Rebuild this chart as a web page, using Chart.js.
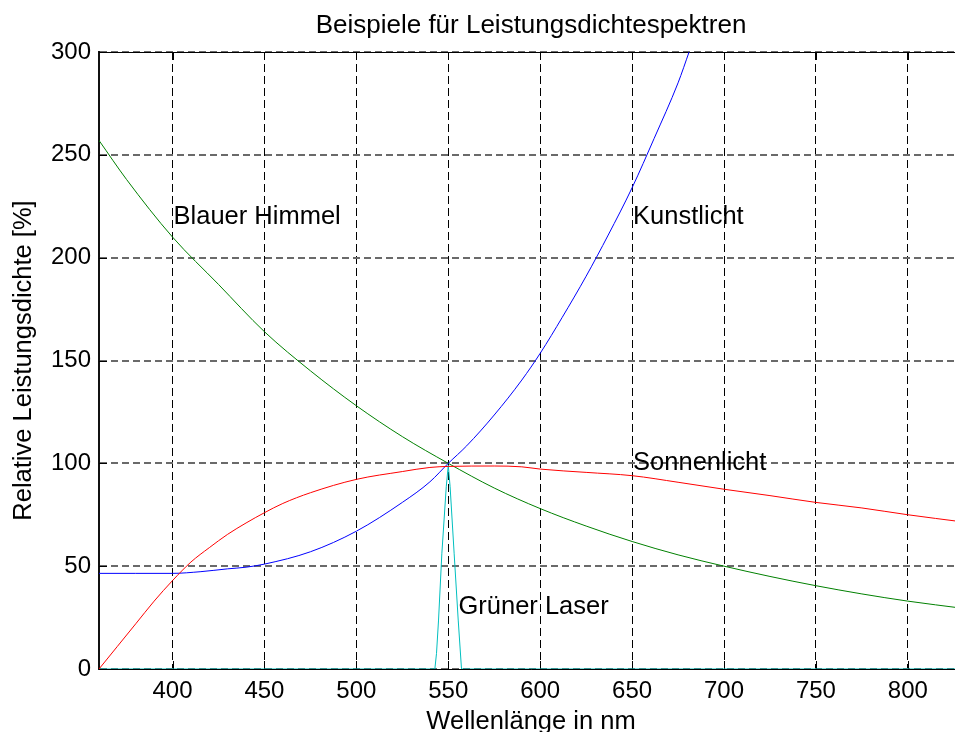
<!DOCTYPE html>
<html lang="de">
<head>
<meta charset="utf-8">
<title>Beispiele für Leistungsdichtespektren</title>
<script src="https://cdn.jsdelivr.net/npm/chart.js@4/dist/chart.umd.min.js"></script>
<style>
  html, body { margin: 0; padding: 0; background: #fff; overflow: hidden; }
  #wrap { width: 975px; height: 745px; }
</style>
</head>
<body>
<div id="wrap"><canvas id="c" width="975" height="745"></canvas></div>
<script>
// Wellenlängen (nm) und relative Leistungsdichte (%) je Lichtquelle
const himmelNm    = [360, 375, 400, 425, 450, 475, 500, 525, 550, 575, 600, 625, 650, 675, 700, 725, 750, 775, 800, 830];
const himmelWerte = [257, 238, 210, 187, 164, 145, 128, 113, 100, 88, 78, 69.5, 62, 55.5, 50, 45, 40.5, 36.5, 33, 29.5];

const sonneNm    = [360, 370, 380, 390, 400, 410, 420, 430, 440, 450, 460, 475, 500, 525, 540, 550, 575, 590, 600, 625, 650, 675, 700, 725, 750, 775, 800, 830];
const sonneWerte = [0, 11, 22, 33, 43, 52, 59, 65.5, 71, 76, 80.5, 85.7, 92.2, 96, 98, 98.5, 98.7, 98.3, 97.2, 95.6, 94, 90.8, 87.4, 84.3, 81, 78.3, 75, 71.5];

const kunstNm    = [360, 380, 400, 415, 430, 440, 450, 475, 500, 525, 540, 550, 560, 575, 590, 600, 612, 625, 637, 650, 662, 675, 681];
const kunstWerte = [46.5, 46.5, 46.5, 47.3, 48.7, 49.5, 51, 57, 67, 81, 91, 100, 108.5, 123.5, 140.5, 153.5, 171, 191, 211, 234, 258, 285, 300];

const laserNm    = [360, 542.7, 543.6, 544.7, 546.5, 548.9, 550, 551, 553.2, 555.4, 557.2, 830];
const laserWerte = [0, 0, 7.6, 23.8, 56, 88.6, 99, 88.6, 56, 23.8, 0, 0];

// Achsenteilung
const xTicks = [400, 450, 500, 550, 600, 650, 700, 750, 800];
const xTickLabels = ['400', '450', '500', '550', '600', '650', '700', '750', '800'];
const yTicks = [0, 50, 100, 150, 200, 250, 300];
const yTickLabels = ['0', '50', '100', '150', '200', '250', '300'];

// Beschriftungen im Diagramm (Datenkoordinaten)
const labelTexte = ['Blauer Himmel', 'Kunstlicht', 'Sonnenlicht', 'Grüner Laser'];
const labelNm    = [400, 650, 650, 555];
const labelWerte = [220, 220, 100, 30];

const titel = 'Beispiele für Leistungsdichtespektren';
const xTitel = 'Wellenlänge in nm';
const yTitel = 'Relative Leistungsdichte [%]';

const FONT = '"Liberation Sans", Arial, Helvetica, sans-serif';

const toPoints = (xs, ys) => xs.map((x, i) => ({ x: x, y: ys[i] }));

function series(label, xs, ys, color, smooth) {
  return {
    label: label,
    data: toPoints(xs, ys),
    borderColor: color,
    backgroundColor: color,
    borderWidth: 1,
    pointRadius: 0,
    fill: false,
    tension: smooth ? 0.4 : 0,
    cubicInterpolationMode: smooth ? 'monotone' : 'default'
  };
}

// Rahmen oben, nach innen zeigende Teilstriche und Texte
const axesDeco = {
  id: 'axesDeco',
  beforeDatasetsDraw(chart) {
    const { ctx, chartArea: a, scales: { x, y } } = chart;
    ctx.save();
    ctx.strokeStyle = '#000';
    ctx.lineWidth = 1;
    ctx.beginPath();
    ctx.moveTo(a.left, a.top + 0.5);
    ctx.lineTo(a.right, a.top + 0.5);
    const tl = 8;
    xTicks.forEach(v => {
      const px = Math.round(x.getPixelForValue(v)) + 0.5;
      ctx.moveTo(px, a.bottom);
      ctx.lineTo(px, a.bottom - tl);
      ctx.moveTo(px, a.top);
      ctx.lineTo(px, a.top + tl);
    });
    yTicks.forEach(v => {
      const py = Math.round(y.getPixelForValue(v)) + 0.5;
      ctx.moveTo(a.left, py);
      ctx.lineTo(a.left + tl, py);
    });
    ctx.stroke();
    ctx.restore();
  },
  afterDraw(chart) {
    const { ctx, chartArea: a, scales: { x, y } } = chart;
    ctx.save();
    ctx.fillStyle = '#000';
    ctx.font = '25.5px ' + FONT;
    ctx.textAlign = 'left';
    ctx.textBaseline = 'middle';
    labelTexte.forEach((t, i) => {
      ctx.fillText(t, x.getPixelForValue(labelNm[i]) + 1, y.getPixelForValue(labelWerte[i]));
    });
    const cx = (a.left + a.right) / 2;
    ctx.textAlign = 'center';
    ctx.textBaseline = 'alphabetic';
    ctx.font = '26px ' + FONT;
    ctx.fillText(titel, cx, 33);
    ctx.font = '25.5px ' + FONT;
    ctx.fillText(xTitel, cx, 729);
    ctx.translate(31, (a.top + a.bottom) / 2);
    ctx.rotate(-Math.PI / 2);
    ctx.fillText(yTitel, 0, 0);
    ctx.restore();
  }
};

new Chart(document.getElementById('c'), {
  type: 'line',
  data: {
    datasets: [
      series('Sonnenlicht', sonneNm, sonneWerte, '#ff0000', true),
      series('Kunstlicht', kunstNm, kunstWerte, '#0000ff', true),
      series('Blauer Himmel', himmelNm, himmelWerte, '#008000', true),
      series('Grüner Laser', laserNm, laserWerte, '#00bfbf', false)
    ]
  },
  options: {
    responsive: false,
    animation: false,
    events: [],
    layout: { padding: { left: 0, top: 52, right: 12, bottom: 0 } },
    plugins: { legend: { display: false }, tooltip: { enabled: false }, title: { display: false } },
    scales: {
      x: {
        type: 'linear',
        min: 360,
        max: 830,
        afterBuildTicks: s => { s.ticks = xTicks.map(v => ({ value: v })); },
        afterFit: s => { s.height = 76; },
        ticks: {
          color: '#000',
          font: { family: FONT, size: 24 },
          padding: 8,
          maxRotation: 0,
          autoSkip: false,
          callback: v => xTickLabels[xTicks.indexOf(v)]
        },
        grid: { color: '#000', lineWidth: 1, drawTicks: false },
        border: { display: true, color: '#000', width: 1, dash: [8, 4] }
      },
      y: {
        type: 'linear',
        min: 0,
        max: 300,
        afterBuildTicks: s => { s.ticks = yTicks.map(v => ({ value: v })); },
        afterFit: s => { s.width = 99; },
        ticks: {
          color: '#000',
          font: { family: FONT, size: 24 },
          padding: 8,
          autoSkip: false,
          callback: v => yTickLabels[yTicks.indexOf(v)]
        },
        grid: { color: '#6a6a6a', lineWidth: 2, drawTicks: false },
        border: { display: true, color: '#111', width: 2, dash: [7, 4] }
      }
    }
  },
  plugins: [axesDeco]
});
</script>
</body>
</html>
